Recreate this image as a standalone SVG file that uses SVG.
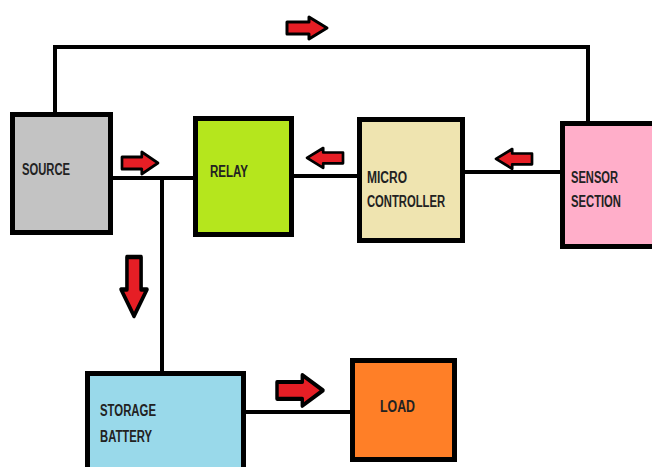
<svg xmlns="http://www.w3.org/2000/svg" width="652" height="467" viewBox="0 0 652 467">
<defs>
<style>
.box{stroke:#000;stroke-width:5}
.lbl{font-family:"Liberation Sans",Arial,sans-serif;font-size:16px;font-weight:bold;fill:#222}
.wire{stroke:#000;stroke-width:4;fill:none}
.arr{fill:#e61e25;stroke:#000;stroke-width:3;stroke-linejoin:round}
</style>
<path id="ra" d="M0,5 H22 V0 L40,11 L22,22 V17 H0 Z"/>
</defs>
<rect width="652" height="467" fill="#fff"/>
<g id="connectors">
<polyline class="wire" points="55,112 55,47 588,47 588,121"/>
<line class="wire" x1="113" y1="178" x2="193" y2="178"/>
<line class="wire" x1="162" y1="178" x2="162" y2="371"/>
<line class="wire" x1="294" y1="176" x2="357" y2="176"/>
<line class="wire" x1="465" y1="172" x2="560" y2="172"/>
<line class="wire" x1="246" y1="412" x2="350" y2="412"/>
<use href="#ra" class="arr" transform="translate(287,17)"/>
<use href="#ra" class="arr" transform="translate(122,152) scale(0.9,1)"/>
<use href="#ra" class="arr" transform="translate(343,148) scale(-0.9,0.9)"/>
<use href="#ra" class="arr" transform="translate(532,149) scale(-0.9,0.9)"/>
<use href="#ra" class="arr" transform="translate(147,257) rotate(90) scale(1.475,1.18)"/>
<use href="#ra" class="arr" transform="translate(277,375) scale(1.15,1.4)"/>
</g>
<g id="source">
<rect class="box" x="12.5" y="114.5" width="98" height="118" fill="#c3c3c3"/>
<text class="lbl" x="22" y="175" textLength="48" lengthAdjust="spacingAndGlyphs">SOURCE</text>
</g>
<g id="relay">
<rect class="box" x="195.5" y="118.5" width="96" height="116" fill="#b5e61d"/>
<text class="lbl" x="210" y="177" textLength="38" lengthAdjust="spacingAndGlyphs">RELAY</text>
</g>
<g id="microcontroller">
<rect class="box" x="359.5" y="119.5" width="103" height="121" fill="#efe4b0"/>
<text class="lbl" x="367" y="183" textLength="40" lengthAdjust="spacingAndGlyphs">MICRO</text>
<text class="lbl" x="367" y="207" textLength="78" lengthAdjust="spacingAndGlyphs">CONTROLLER</text>
</g>
<g id="sensor">
<rect class="box" x="562.5" y="123.5" width="100" height="123" fill="#ffaec9"/>
<text class="lbl" x="571" y="183" textLength="47" lengthAdjust="spacingAndGlyphs">SENSOR</text>
<text class="lbl" x="571" y="207" textLength="50" lengthAdjust="spacingAndGlyphs">SECTION</text>
</g>
<g id="battery">
<rect class="box" x="87.5" y="373.5" width="156" height="100" fill="#99d9ea"/>
<text class="lbl" x="100" y="416" textLength="56" lengthAdjust="spacingAndGlyphs">STORAGE</text>
<text class="lbl" x="100" y="442" textLength="52" lengthAdjust="spacingAndGlyphs">BATTERY</text>
</g>
<g id="load">
<rect class="box" x="352.5" y="360.5" width="102" height="99" fill="#ff7f27"/>
<text class="lbl" x="380" y="412" textLength="35" lengthAdjust="spacingAndGlyphs">LOAD</text>
</g>
</svg>
